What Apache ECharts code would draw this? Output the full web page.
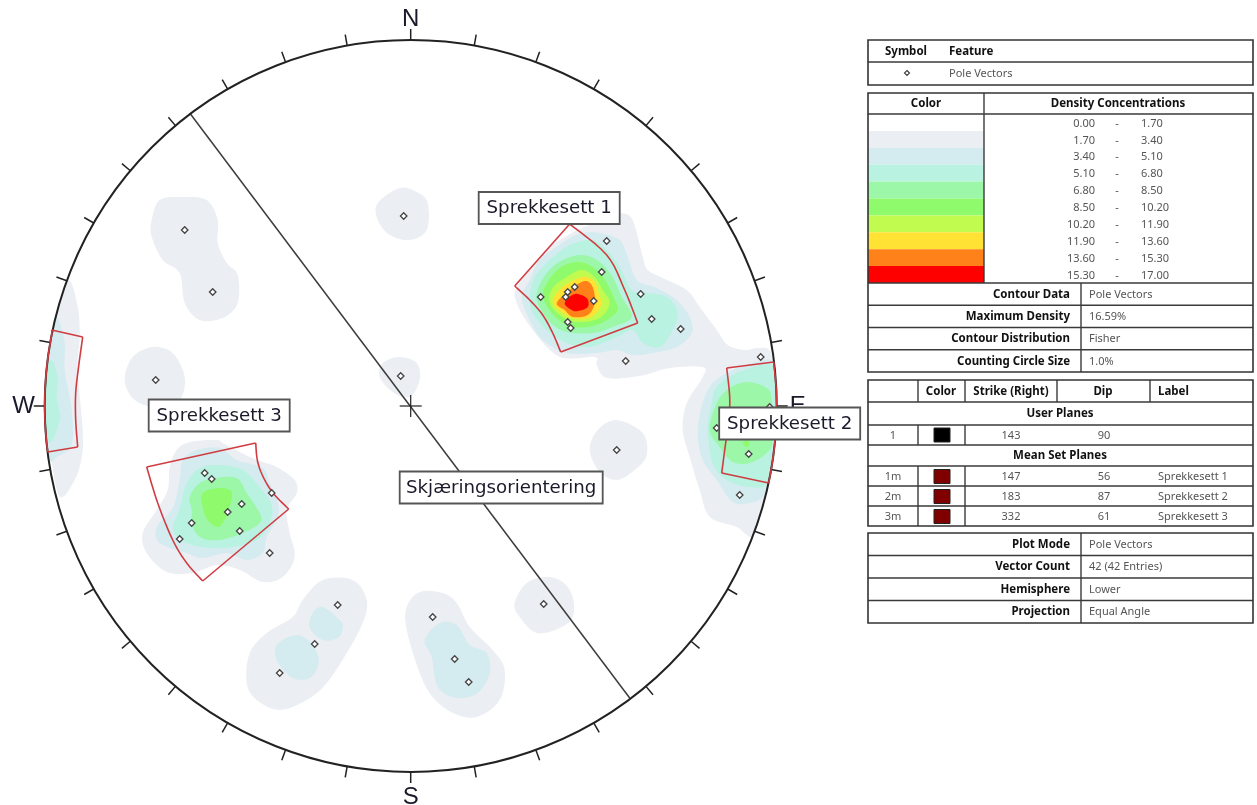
<!DOCTYPE html>
<html><head><meta charset="utf-8">
<style>html,body{margin:0;padding:0;background:#fff}#c{width:1257px;height:805px}</style>
<script src="https://cdn.jsdelivr.net/npm/echarts@6/dist/echarts.min.js"></script>
</head><body><div id="c"></div>
<script>
// Net coordinates: origin at the net centre, x east, y north, primitive radius 366.
const netRadius = 366;
const tickAzimuths = [0,10,20,30,40,50,60,70,80,90,100,110,120,130,140,150,160,170,180,190,200,210,220,230,240,250,260,270,280,290,300,310,320,330,340,350];
const compassLabels = ['N','E','S','W'];
const poles = [
 [196,165],[191,134],[164,119],[157,114],[155,109],[183,105],[130,109],[157,84],[160,78],[230,112],[241,87],[270,77],[215,45],
 [350,49],[359,-1],[306,-22],[338,-48],[329,-89],
 [-206,-67],[-199,-73],[-139,-87],[-169,-98],[-183,-106],[-219,-117],[-171,-125],[-231,-133],[-141,-147],
 [-73,-199],[-96,-238],[-131,-267],[22,-211],[44,-253],[58,-276],[133,-198],
 [-226,176],[-198,114],[-7,190],[-255,26],[-10,30],[206,-44]
];
const userPlane = [[-221,293],[219,-292]];
const bandColors = ['#ebeef3','#d4ecf0','#b9f2e0','#9cf7a8','#8ffb6c','#c1fb50','#ffe234','#ff8119','#ff0000'];
const band1 = [
 [[211,193],[222,186],[232,149],[237,136],[252,128],[276,116],[289,99],[306,76],[317,61],[334,56],[347,58],[360,54],[364,21],[365,0],[362,-50],[350,-105],[342,-131],[326,-121],[299,-111],[289,-84],[279,-51],[272,-24],[276,3],[292,29],[292,39],[259,38],[229,30],[196,28],[186,41],[184,49],[149,49],[122,76],[106,103],[106,119],[126,143],[139,159],[161,173],[179,181],[199,184],[204,194]],
 [[-343,126],[-333,99],[-331,69],[-333,36],[-328,-24],[-329,-51],[-336,-74],[-351,-91],[-360,-50],[-365,-20],[-366,0],[-364,40],[-357,80]],
 [[-221,-36],[-194,-34],[-188,-37],[-169,-47],[-154,-54],[-134,-61],[-116,-74],[-114,-87],[-124,-104],[-121,-127],[-116,-151],[-128,-171],[-148,-176],[-171,-164],[-194,-159],[-218,-167],[-244,-166],[-264,-147],[-268,-127],[-254,-104],[-243,-84],[-241,-61],[-234,-44]],
 [[-88,-174],[-58,-174],[-44,-194],[-48,-217],[-64,-247],[-84,-277],[-104,-294],[-131,-304],[-154,-294],[-164,-277],[-161,-247],[-144,-227],[-118,-211],[-108,-194]],
 [[9,-186],[32,-187],[46,-197],[59,-221],[82,-244],[94,-264],[89,-294],[66,-311],[42,-307],[22,-291],[9,-267],[-4,-224],[-4,-201]],
 [[116,-177],[136,-171],[152,-176],[162,-191],[162,-211],[149,-222],[126,-227],[109,-211],[104,-197]],
 [[-251,206],[-228,209],[-204,206],[-193,186],[-193,163],[-184,143],[-173,131],[-173,103],[-188,88],[-211,86],[-226,103],[-231,133],[-248,146],[-259,169],[-259,186]],
 [[-33,203],[-11,218],[6,214],[17,203],[16,176],[-1,166],[-21,171],[-33,186]],
 [[-258,59],[-238,53],[-226,29],[-231,6],[-251,-2],[-276,6],[-286,26],[-278,49]],
 [[-31,29],[-28,43],[-11,49],[6,43],[9,26],[-1,9],[-18,14]],
 [[206,-14],[232,-27],[236,-49],[224,-64],[206,-74],[189,-66],[179,-44],[187,-24]]
];
const band2 = [
 [[189,173],[209,166],[217,149],[226,126],[246,118],[266,106],[279,89],[281,73],[266,59],[242,53],[222,51],[206,56],[186,53],[156,53],[132,66],[119,86],[111,109],[119,126],[129,146],[156,166],[172,173]],
 [[346,44],[362,44],[365,10],[363,-40],[359,-74],[352,-91],[339,-97],[322,-96],[306,-74],[292,-54],[287,-27],[292,3],[302,23],[322,36]],
 [[-354,89],[-346,63],[-346,36],[-339,-4],[-339,-39],[-354,-51],[-361,-54],[-365,-20],[-365,20],[-360,60]],
 [[-214,-44],[-191,-42],[-174,-54],[-148,-62],[-141,-77],[-133,-96],[-133,-111],[-144,-131],[-148,-147],[-164,-154],[-184,-147],[-208,-152],[-224,-147],[-251,-137],[-254,-121],[-238,-102],[-231,-74],[-228,-54]],
 [[-88,-201],[-71,-214],[-68,-222],[-73,-232],[-88,-234],[-101,-222],[-98,-207]],
 [[-114,-229],[-98,-239],[-92,-257],[-101,-272],[-118,-272],[-133,-256],[-134,-239]],
 [[29,-217],[46,-219],[59,-239],[76,-247],[79,-267],[67,-287],[46,-292],[27,-281],[21,-251],[14,-234]]
];
const band3 = [
 [[182,166],[196,156],[209,139],[221,116],[236,113],[256,109],[267,94],[262,76],[249,59],[232,63],[222,76],[206,69],[179,59],[156,63],[136,76],[122,93],[119,109],[124,129],[139,146],[159,161]],
 [[362,41],[365,5],[363,-30],[357,-76],[339,-81],[316,-74],[302,-57],[297,-24],[301,3],[306,19],[326,33]],
 [[-359,46],[-353,29],[-354,9],[-351,-14],[-361,-37],[-365,-15],[-366,10],[-364,36]],
 [[-211,-62],[-191,-59],[-168,-64],[-151,-81],[-139,-99],[-141,-117],[-154,-134],[-178,-141],[-201,-142],[-224,-137],[-238,-124],[-231,-102],[-224,-77]]
];
const band4 = [
 [[172,151],[189,144],[202,129],[211,109],[221,89],[202,79],[182,73],[156,74],[139,84],[127,103],[127,116],[136,133],[152,146]],
 [[337,24],[356,18],[361,6],[362,-34],[356,-47],[339,-57],[322,-56],[309,-41],[299,-24],[306,3],[319,18]],
 [[-211,-77],[-194,-72],[-174,-72],[-164,-87],[-151,-107],[-151,-117],[-168,-127],[-191,-134],[-209,-132],[-218,-121],[-219,-104],[-221,-91]]
];
const band5 = [
 [[169,144],[186,136],[196,123],[204,106],[206,94],[186,81],[162,79],[146,88],[134,104],[134,119],[149,138]],
 [[336,-34],[339,-37],[336,-41],[332,-37]],
 [[-208,-87],[-191,-82],[-179,-86],[-181,-101],[-186,-114],[-193,-121],[-203,-114],[-208,-101]]
];
const band6 = [[[171,136],[184,129],[192,116],[199,103],[189,88],[166,84],[149,91],[139,104],[142,118],[156,129]]];
const band7 = [[[172,129],[184,124],[189,109],[191,101],[179,88],[162,88],[151,94],[142,104],[152,119]]];
const band8 = [[[174,125],[182,119],[184,103],[177,91],[162,89],[154,96],[146,103],[159,116]]];
const band9 = [[[164,112],[176,108],[177,99],[167,95],[161,96],[154,103]]];
const setWindows = [
 [[[159,182],[196,151],[214,116],[227,83]],[[227,83],[150,54]],[[150,54],[142,73],[132,91],[119,106],[104,120]],[[104,120],[159,182]]],
 [[[316,38],[363,44]],[[363,44],[366,9],[366,-34],[358,-77]],[[358,-77],[311,-67]],[[311,-67],[314,-44],[318,-14],[319,9],[316,38]]],
 [[[-359,76],[-328,69]],[[-328,69],[-332,40],[-335,13],[-335,-14],[-333,-41]],[[-333,-41],[-363,-46]],[[-363,-46],[-366,-14],[-366,13],[-364,46],[-359,76]]],
 [[[-264,-61],[-155,-37]],[[-155,-37],[-153,-56],[-146,-74],[-136,-89],[-122,-103]],[[-122,-103],[-208,-175]],[[-208,-175],[-224,-157],[-238,-134],[-253,-97],[-264,-61]]]
];
const annotationTexts = ['Sprekkesett 1','Sprekkesett 2','Sprekkesett 3','Skjæringsorientering'];
const annotationAnchors = [[138.5,198],[379,-17.5],[-191.5,-9.5],[90.5,-81.5]];

// Side tables
const densityLow = ['0.00','1.70','3.40','5.10','6.80','8.50','10.20','11.90','13.60','15.30'];
const densityHigh = ['1.70','3.40','5.10','6.80','8.50','10.20','11.90','13.60','15.30','17.00'];
const contourInfo = [['Contour Data','Pole Vectors'],['Maximum Density','16.59%'],['Contour Distribution','Fisher'],['Counting Circle Size','1.0%']];
const planeHeaders = ['Color','Strike (Right)','Dip','Label'];
const userPlanes = [['1','143','90','']];
const meanPlanes = [['1m','147','56','Sprekkesett 1'],['2m','183','87','Sprekkesett 2'],['3m','332','61','Sprekkesett 3']];
const plotInfo = [['Plot Mode','Pole Vectors'],['Vector Count','42 (42 Entries)'],['Hemisphere','Lower'],['Projection','Equal Angle']];

const RED = '#cf3d42', FONT = '"Noto Sans",sans-serif';
// Catmull-Rom drawing of an outline through its read vertices, kept inside the primitive circle.
function rounded(pts, closed){
  const n=pts.length, out=[], steps=6;
  if(n<3) return pts;
  const at=i=>closed?pts[(i+n)%n]:pts[Math.max(0,Math.min(n-1,i))];
  const last=closed?n:n-1;
  for(let i=0;i<last;i++){
    const a=at(i-1),b=at(i),c=at(i+1),d=at(i+2);
    for(let k=0;k<steps;k++){
      const t=k/steps,t2=t*t,t3=t2*t;
      const f=j=>0.5*(2*b[j]+(c[j]-a[j])*t+(2*a[j]-5*b[j]+4*c[j]-d[j])*t2+(3*b[j]-a[j]-3*c[j]+d[j])*t3);
      let x=f(0),y=f(1);const r=Math.hypot(x,y);
      if(r>netRadius){x*=netRadius/r;y*=netRadius/r;}
      out.push([x,y]);
    }
  }
  if(!closed) out.push(pts[n-1]);
  return out;
}
function polyBand(polys, fill, z){
  return {type:'custom',coordinateSystem:'cartesian2d',clip:false,silent:true,z,
    data:polys.map((p,i)=>[p[0][0],p[0][1],i]),
    renderItem(params,api){
      const p=rounded(polys[params.dataIndex],true);
      return {type:'polygon',shape:{points:p.map(v=>api.coord(v))},style:{fill,stroke:null}};
    }};
}
const bands=[band1,band2,band3,band4,band5,band6,band7,band8,band9];
const series=bands.map((b,i)=>polyBand(b,bandColors[i],2+i));
// primitive circle and ticks
series.push({type:'custom',coordinateSystem:'cartesian2d',clip:false,silent:true,z:14,
  data:tickAzimuths.map(a=>[0,0,a]),
  renderItem(params,api){
    const a=tickAzimuths[params.dataIndex]*Math.PI/180,s=Math.sin(a),c=Math.cos(a);
    const p0=api.coord([netRadius*s,netRadius*c]),p1=api.coord([(netRadius+11)*s,(netRadius+11)*c]);
    const kids=[{type:'line',shape:{x1:p0[0],y1:p0[1],x2:p1[0],y2:p1[1]},style:{stroke:'#222',lineWidth:1.5}}];
    if(params.dataIndex===0){const o=api.coord([0,0]),r=api.size([netRadius,0])[0];
      kids.push({type:'circle',shape:{cx:o[0],cy:o[1],r},style:{fill:null,stroke:'#222',lineWidth:2}});
      kids.push({type:'line',shape:{x1:o[0]-11,y1:o[1],x2:o[0]+11,y2:o[1]},style:{stroke:'#222',lineWidth:1.2}});
      kids.push({type:'line',shape:{x1:o[0],y1:o[1]-11,x2:o[0],y2:o[1]+11},style:{stroke:'#222',lineWidth:1.2}});
    }
    return {type:'group',children:kids};
  }});
// compass letters
series.push({type:'custom',coordinateSystem:'cartesian2d',clip:false,silent:true,z:15,
  data:compassLabels.map((l,i)=>[0,0,i]),
  renderItem(params,api){
    const i=params.dataIndex,a=i*Math.PI/2,d=netRadius+[21,21,25,21][i];
    const p=api.coord([d*Math.sin(a),d*Math.cos(a)]);
    return {type:'text',style:{text:compassLabels[i],x:p[0],y:p[1],align:'center',verticalAlign:'middle',font:'24px "Liberation Sans",sans-serif',fill:'#1a1a2a'}};
  }});
// user plane
series.push({type:'line',data:userPlane,symbol:'none',silent:true,z:13,clip:false,lineStyle:{color:'#3c3c3c',width:1.5}});
// set windows
setWindows.forEach(win=>series.push({type:'custom',coordinateSystem:'cartesian2d',clip:false,silent:true,z:16,
  data:win.map((e,i)=>[e[0][0],e[0][1],i]),
  renderItem(params,api){
    return {type:'polyline',shape:{points:rounded(win[params.dataIndex],false).map(v=>api.coord(v))},style:{fill:null,stroke:RED,lineWidth:1.6}};
  }}));
// poles
series.push({type:'scatter',data:poles,symbol:'diamond',symbolSize:6.5,silent:true,z:18,clip:false,itemStyle:{color:'#fff',borderColor:'#444',borderWidth:1.3,opacity:1}});
// annotation boxes
series.push({type:'custom',coordinateSystem:'cartesian2d',clip:false,silent:true,z:30,
  data:annotationAnchors.map((a,i)=>[a[0],a[1],i]),
  renderItem(params,api){
    const i=params.dataIndex,c=api.coord(annotationAnchors[i]),w=i===3?203:141,h=32;
    return {type:'group',children:[
      {type:'rect',shape:{x:c[0]-w/2,y:c[1]-h/2,width:w,height:h},style:{fill:'#fff',stroke:'#555',lineWidth:1.8}},
      {type:'text',style:{text:annotationTexts[i],x:c[0],y:c[1]+0.5,align:'center',verticalAlign:'middle',font:'18.2px "DejaVu Sans",sans-serif',fill:'#1a1a2a'}}
    ]};
  }});

// side-table drawing helpers (screen layout)
const g=[];
function tx(x,y,text,align,bold,fill){g.push({type:'text',z:50,style:{x,y:y+0.7,text,align:align||'left',verticalAlign:'middle',font:(bold?'bold 11.5px ':'11px ')+FONT,fill:fill||(bold?'#111':'#555')}});}
function ln(x1,y1,x2,y2,w){g.push({type:'line',z:51,shape:{x1,y1,x2,y2},style:{stroke:'#3a3a3a',lineWidth:w||1.4}});}
function box(x,y,w,h,fill,stroke){g.push({type:'rect',z:49,shape:{x,y,width:w,height:h},style:{fill,stroke:stroke||null,lineWidth:stroke?1:0}});}
function frame(x1,y1,x2,y2){g.push({type:'rect',z:52,shape:{x:x1,y:y1,width:x2-x1,height:y2-y1},style:{fill:null,stroke:'#333',lineWidth:1.6}});}
const L=868,R=1253,DIV=1081;
// feature table
frame(L,40,R,85); ln(L,62,R,62);
tx(906,51,'Symbol','center',true); tx(949,51,'Feature','left',true);
g.push({type:'polygon',z:50,shape:{points:[[907,70.5],[909.5,73],[907,75.5],[904.5,73]]},style:{fill:'#fff',stroke:'#444',lineWidth:1.2}});
tx(949,73,'Pole Vectors');
// density table
frame(L,93,R,372); ln(L,114,R,114); ln(984,93,984,283); ln(L,283,R,283);
tx(926,103,'Color','center',true); tx(1118,103,'Density Concentrations','center',true);
bandColors.forEach((c,i)=>box(L,114+(i+1)*16.9,116,16.9,c));
densityLow.forEach((v,i)=>{const y=122.8+i*16.9;tx(1095,y,v,'right');tx(1117,y,'-','center');tx(1141,y,densityHigh[i],'left');});
contourInfo.forEach((r,i)=>{const y0=283+i*22.25;if(i)ln(L,y0,R,y0);tx(1070,y0+11,r[0],'right',true);tx(1089,y0+11,r[1]);});
ln(DIV,283,DIV,372);
// planes table
frame(L,380,R,526); [402,425,445,466,486,506].forEach(y=>ln(L,y,R,y));
[918,965,1057,1150].forEach(x=>ln(x,380,x,402));
[918,965].forEach(x=>{ln(x,425,x,445);ln(x,466,x,526);});
tx(941,391,planeHeaders[0],'center',true);tx(1011,391,planeHeaders[1],'center',true);tx(1103,391,planeHeaders[2],'center',true);tx(1158,391,planeHeaders[3],'left',true);
tx(1060,413.5,'User Planes','center',true);tx(1060,455.5,'Mean Set Planes','center',true);
function planeRow(r,y,col){tx(893,y,r[0],'center');box(934,y-7,16,14,col,'#222');tx(1011,y,r[1],'center');tx(1104,y,r[2],'center');tx(1158,y,r[3]);}
userPlanes.forEach(r=>planeRow(r,435,'#000'));
meanPlanes.forEach((r,i)=>planeRow(r,476.5+i*20,'#800000'));
// plot info
frame(L,533,R,623); plotInfo.forEach((r,i)=>{const y0=533+i*22.5;if(i)ln(L,y0,R,y0);tx(1070,y0+11,r[0],'right',true);tx(1089,y0+11,r[1]);});
ln(DIV,533,DIV,623);

const chart=echarts.init(document.getElementById('c'),null,{renderer:'canvas'});
chart.setOption({animation:false,backgroundColor:'#fff',
  grid:{left:0,right:0,top:0,bottom:0},
  xAxis:{type:'value',min:-410.7,max:846.3,show:false},
  yAxis:{type:'value',min:-399,max:406,show:false},
  series,graphic:{elements:g}});
</script></body></html>
